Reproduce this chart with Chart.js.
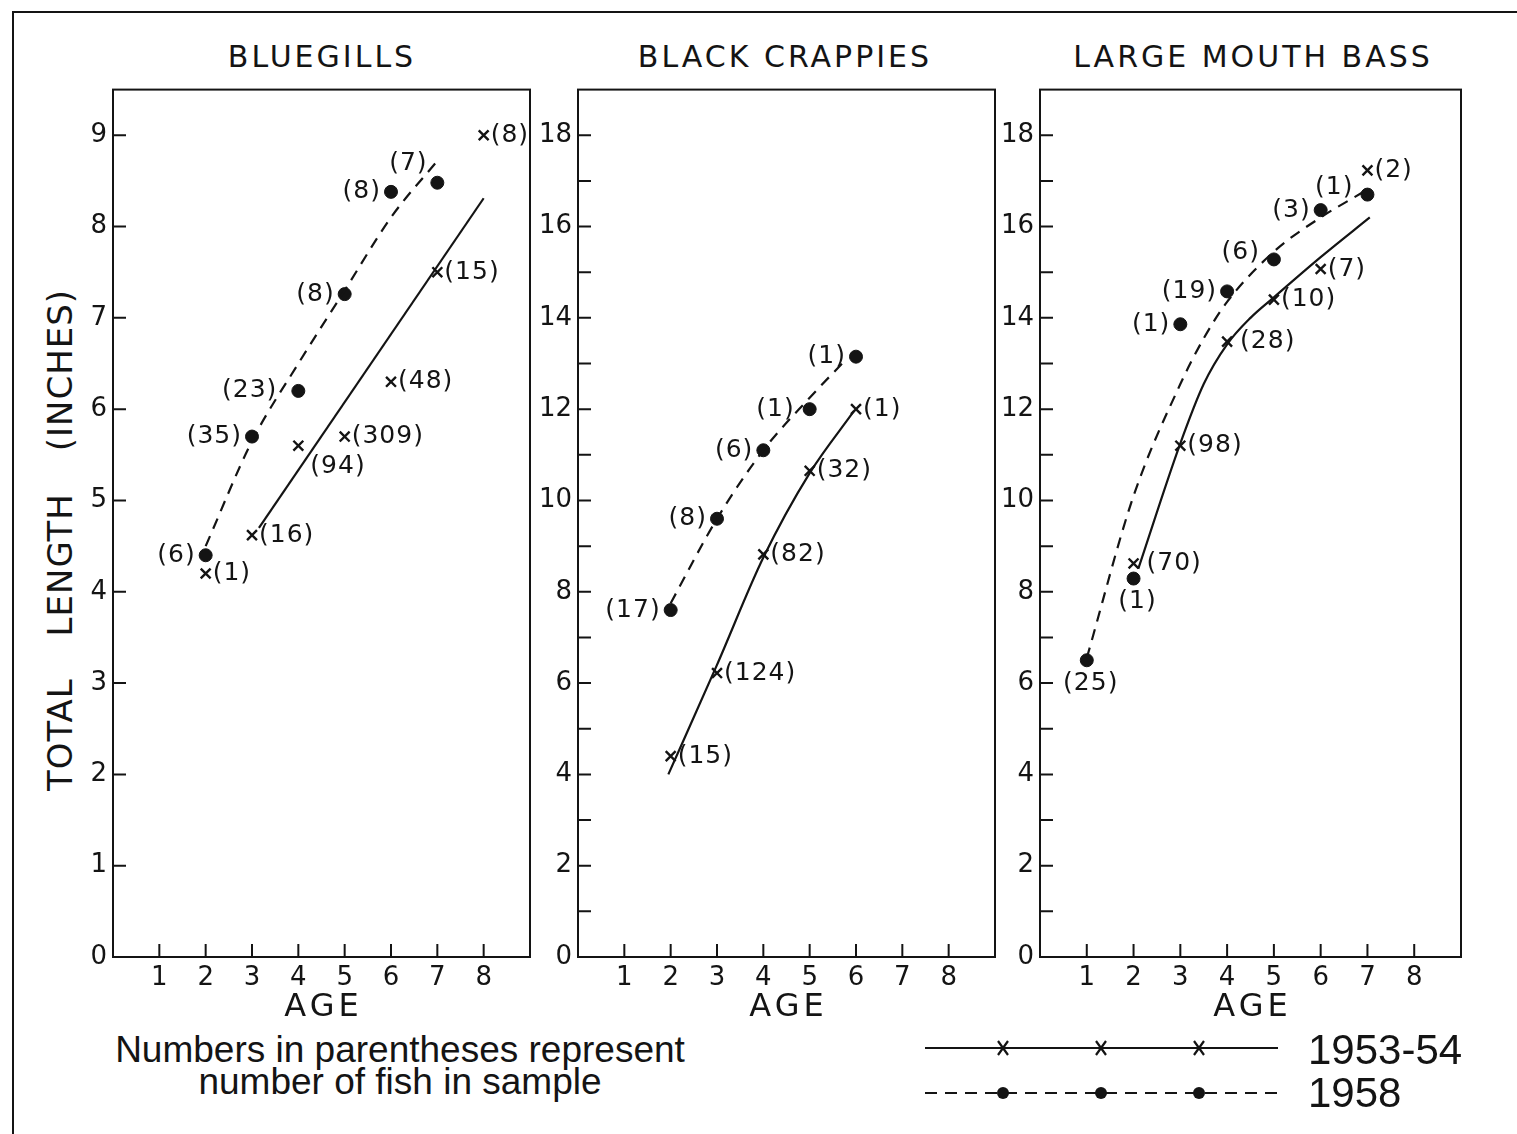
<!DOCTYPE html>
<html lang="en">
<head>
  <meta charset="UTF-8" />
  <title>Growth in length - bluegills, black crappies, large mouth bass</title>
  <script src="https://cdn.jsdelivr.net/npm/chart.js"></script>
  <style>
    body { margin: 0; background: #fff; }
    .page { position: relative; width: 1517px; height: 1134px; overflow: hidden; background: #fff; color: #141414; font-family: "DejaVu Sans", sans-serif; }
    .frame { position: absolute; left: 12px; top: 11px; width: 1520px; height: 1140px; border-top: 2px solid #141414; border-left: 2px solid #141414; }
    canvas { position: absolute; }
    .title { position: absolute; top: 37px; width: 600px; text-align: center; font-size: 30px; line-height: 40px; letter-spacing: 3px; white-space: nowrap; }
    .ytitle { position: absolute; left: 60px; top: 540px; transform: translate(-50%, -50%) rotate(-90deg); font-size: 34px; line-height: 1; letter-spacing: 1px; word-spacing: 30px; white-space: nowrap; }
    .note { position: absolute; left: 80px; top: 1034px; width: 640px; text-align: center; font-family: "Liberation Sans", sans-serif; font-size: 37px; line-height: 32px; }
    .key { position: absolute; left: 1308px; font-family: "Liberation Sans", sans-serif; font-size: 42px; line-height: 1; }
    svg { position: absolute; left: 900px; top: 1020px; }
  </style>
</head>
<body>
  <div class="page">
    <div class="frame"></div>

    <div class="title" style="left:22px">BLUEGILLS</div>
    <div class="title" style="left:485px">BLACK CRAPPIES</div>
    <div class="title" style="left:953px">LARGE MOUTH BASS</div>
    <div class="ytitle">TOTAL LENGTH (INCHES)</div>

    <canvas id="bluegills" width="487" height="959" style="left:53px; top:68px"></canvas>
    <canvas id="crappies" width="487" height="959" style="left:518px; top:68px"></canvas>
    <canvas id="bass" width="491" height="959" style="left:980px; top:68px"></canvas>

    <div class="note">Numbers in parentheses represent<br>number of fish in sample</div>

    <!-- key -->
    <svg width="400" height="100">
      <g stroke="#141414" stroke-width="2.2" fill="none">
        <line x1="25" y1="28" x2="378" y2="28" />
        <path d="M98 21 L108 35 M108 21 L98 35 M196 21 L206 35 M206 21 L196 35 M294 21 L304 35 M304 21 L294 35" />
        <line x1="25" y1="73" x2="378" y2="73" stroke-dasharray="12 8" />
      </g>
      <g fill="#141414">
        <circle cx="103" cy="73" r="6" />
        <circle cx="201" cy="73" r="6" />
        <circle cx="299" cy="73" r="6" />
      </g>
    </svg>
    <div class="key" style="top:1029px">1953-54</div>
    <div class="key" style="top:1072px">1958</div>
  </div>

  <script>
    // ---- values (age in years, total length in inches) ----
    // 1953-54 samples are the x marks, 1958 samples the dots
    const bluegillAge53 = [2, 3, 4, 5, 6, 7, 8];
    const bluegillLen53 = [4.2, 4.62, 5.6, 5.7, 6.3, 7.5, 9.0];
    const bluegillN53 = [1, 16, 94, 309, 48, 15, 8];
    const bluegillAge58 = [2, 3, 4, 5, 6, 7];
    const bluegillLen58 = [4.4, 5.7, 6.2, 7.26, 8.38, 8.48];
    const bluegillN58 = [6, 35, 23, 8, 8, 7];
    // hand drawn growth curves
    const bluegillCurveAge53 = [3.15, 8.0];
    const bluegillCurveLen53 = [4.7, 8.31];
    const bluegillCurveAge58 = [2, 3, 4, 5, 6, 7.05];
    const bluegillCurveLen58 = [4.5, 5.65, 6.5, 7.3, 8.1, 8.75];

    const crappieAge53 = [2, 3, 4, 5, 6];
    const crappieLen53 = [4.4, 6.22, 8.82, 10.65, 12.0];
    const crappieN53 = [15, 124, 82, 32, 1];
    const crappieAge58 = [2, 3, 4, 5, 6];
    const crappieLen58 = [7.6, 9.6, 11.1, 12.0, 13.15];
    const crappieN58 = [17, 8, 6, 1, 1];
    const crappieCurveAge53 = [1.95, 3, 4, 5, 5.95];
    const crappieCurveLen53 = [4.0, 6.4, 8.75, 10.6, 11.95];
    const crappieCurveAge58 = [2, 3, 4, 5, 5.7];
    const crappieCurveLen58 = [7.75, 9.6, 11.1, 12.25, 13.0];

    const bassAge53 = [2, 3, 4, 5, 6, 7];
    const bassLen53 = [8.62, 11.2, 13.48, 14.4, 15.07, 17.23];
    const bassN53 = [70, 98, 28, 10, 7, 2];
    const bassAge58 = [1, 2, 3, 4, 5, 6, 7];
    const bassLen58 = [6.5, 8.29, 13.86, 14.58, 15.28, 16.36, 16.7];
    const bassN58 = [25, 1, 1, 19, 6, 3, 1];
    const bassCurveAge53 = [2.1, 3, 3.5, 4, 4.5, 5, 6, 7.05];
    const bassCurveLen53 = [8.5, 11.25, 12.55, 13.42, 14.0, 14.45, 15.33, 16.2];
    const bassCurveAge58 = [1, 2, 3, 3.5, 4, 5, 6, 6.9];
    const bassCurveLen58 = [6.55, 10.1, 12.55, 13.55, 14.35, 15.45, 16.2, 16.75];

    // axis tick labels
    const ageLabels = [1, 2, 3, 4, 5, 6, 7, 8];
    const bluegillLenLabels = [0, 1, 2, 3, 4, 5, 6, 7, 8, 9];
    const bigLenLabels = [0, 2, 4, 6, 8, 10, 12, 14, 16, 18];

    // where each "(n)" sits next to its mark
    const bluegillWhere53 = ['r', 'r', 'br', 'r', 'r', 'r', 'r'];
    const bluegillWhere58 = ['l', 'l', 'lf', 'l', 'l', 'a'];
    const crappieWhere53 = ['r', 'r', 'r', 'r', 'r'];
    const crappieWhere58 = ['l', 'l', 'l', 'lm', 'l'];
    const bassWhere53 = ['rf', 'r', 'rf', 'r', 'r', 'r'];
    const bassWhere58 = ['b', 'b', 'l', 'l', 'lu', 'l', 'lu'];

    const INK = '#141414';
    const TICK_FONT = { family: 'DejaVu Sans', size: 26 };

    function pts(xs, ys) {
      return xs.map((v, i) => ({ x: v, y: ys[i] }));
    }

    function place(code, px, py) {
      switch (code) {
        case 'r': return [px + 7, py, 'left'];
        case 'rf': return [px + 13, py, 'left'];
        case 'br': return [px + 12, py + 21, 'left'];
        case 'l': return [px - 10, py, 'right'];
        case 'lm': return [px - 15, py, 'right'];
        case 'lf': return [px - 21, py, 'right'];
        case 'lu': return [px - 14, py - 7, 'right'];
        case 'b': return [px + 4, py + 23, 'center'];
        case 'a': return [px - 29, py - 19, 'center'];
      }
      return [px + 7, py, 'left'];
    }

    // box, inward ticks, sample sizes and the AGE caption
    function inkPlugin(notes) {
      return {
        id: 'ink',
        afterDraw(chart) {
          const { ctx, chartArea: a, scales: { x, y } } = chart;
          ctx.save();
          ctx.strokeStyle = INK;
          ctx.lineWidth = 2;
          ctx.strokeRect(a.left, a.top, a.right - a.left, a.bottom - a.top);

          ctx.beginPath();
          x.ticks.forEach(t => {
            if (t.value <= x.min || t.value >= x.max) return;
            const px = x.getPixelForValue(t.value);
            ctx.moveTo(px, a.bottom);
            ctx.lineTo(px, a.bottom - 13);
          });
          y.ticks.forEach(t => {
            if (t.value <= y.min || t.value >= y.max) return;
            const py = y.getPixelForValue(t.value);
            ctx.moveTo(a.left, py);
            ctx.lineTo(a.left + 13, py);
          });
          ctx.stroke();

          ctx.fillStyle = INK;
          ctx.font = '25px "DejaVu Sans"';
          ctx.letterSpacing = '1px';
          ctx.textBaseline = 'middle';
          notes.forEach(n => {
            chart.getDatasetMeta(n.dataset).data.forEach((el, i) => {
              const [tx, ty, align] = place(n.where[i], el.x, el.y);
              ctx.textAlign = align;
              ctx.fillText('(' + n.counts[i] + ')', tx, ty);
            });
          });

          ctx.font = '32px "DejaVu Sans"';
          ctx.letterSpacing = '4px';
          ctx.textAlign = 'center';
          ctx.fillText('AGE', (a.left + a.right) / 2 + 2, a.bottom + 51);
          ctx.restore();
        }
      };
    }

    function panel(id, yMax, yLabels, c53x, c53y, c58x, c58y, a53, l53, n53, w53, a58, l58, n58, w58) {
      new Chart(document.getElementById(id), {
        type: 'scatter',
        data: {
          datasets: [
            { data: pts(c53x, c53y), showLine: true, pointRadius: 0, borderColor: INK, borderWidth: 2.2, cubicInterpolationMode: 'monotone' },
            { data: pts(c58x, c58y), showLine: true, pointRadius: 0, borderColor: INK, borderWidth: 2.2, borderDash: [11, 8], cubicInterpolationMode: 'monotone' },
            { data: pts(a53, l53), pointStyle: 'crossRot', pointRadius: 7, borderWidth: 2.4, borderColor: INK, backgroundColor: INK },
            { data: pts(a58, l58), pointStyle: 'circle', pointRadius: 6.5, borderColor: INK, backgroundColor: INK }
          ]
        },
        options: {
          responsive: false,
          animation: false,
          devicePixelRatio: 1,
          events: [],
          layout: { padding: { top: 10, right: 10, bottom: 0, left: 0 } },
          plugins: { legend: { display: false }, tooltip: { enabled: false } },
          scales: {
            x: {
              type: 'linear', min: 0, max: 9,
              grid: { display: false, drawTicks: false }, border: { display: false },
              ticks: {
                stepSize: 1, autoSkip: false, maxRotation: 0, padding: 6,
                color: INK, font: TICK_FONT,
                callback: v => (ageLabels.includes(v) ? v : '')
              },
              afterFit: s => { s.height = 70; }
            },
            y: {
              type: 'linear', min: 0, max: yMax,
              grid: { display: false, drawTicks: false }, border: { display: false },
              ticks: {
                stepSize: 1, autoSkip: false, includeBounds: false, padding: 6,
                color: INK, font: TICK_FONT,
                callback: v => (yLabels.includes(v) ? v : '')
              },
              afterFit: s => { s.width = 60; }
            }
          }
        },
        plugins: [inkPlugin([
          { dataset: 2, counts: n53, where: w53 },
          { dataset: 3, counts: n58, where: w58 }
        ])]
      });
    }

    panel('bluegills', 9.5, bluegillLenLabels,
      bluegillCurveAge53, bluegillCurveLen53, bluegillCurveAge58, bluegillCurveLen58,
      bluegillAge53, bluegillLen53, bluegillN53, bluegillWhere53,
      bluegillAge58, bluegillLen58, bluegillN58, bluegillWhere58);

    panel('crappies', 19, bigLenLabels,
      crappieCurveAge53, crappieCurveLen53, crappieCurveAge58, crappieCurveLen58,
      crappieAge53, crappieLen53, crappieN53, crappieWhere53,
      crappieAge58, crappieLen58, crappieN58, crappieWhere58);

    panel('bass', 19, bigLenLabels,
      bassCurveAge53, bassCurveLen53, bassCurveAge58, bassCurveLen58,
      bassAge53, bassLen53, bassN53, bassWhere53,
      bassAge58, bassLen58, bassN58, bassWhere58);
  </script>
</body>
</html>
